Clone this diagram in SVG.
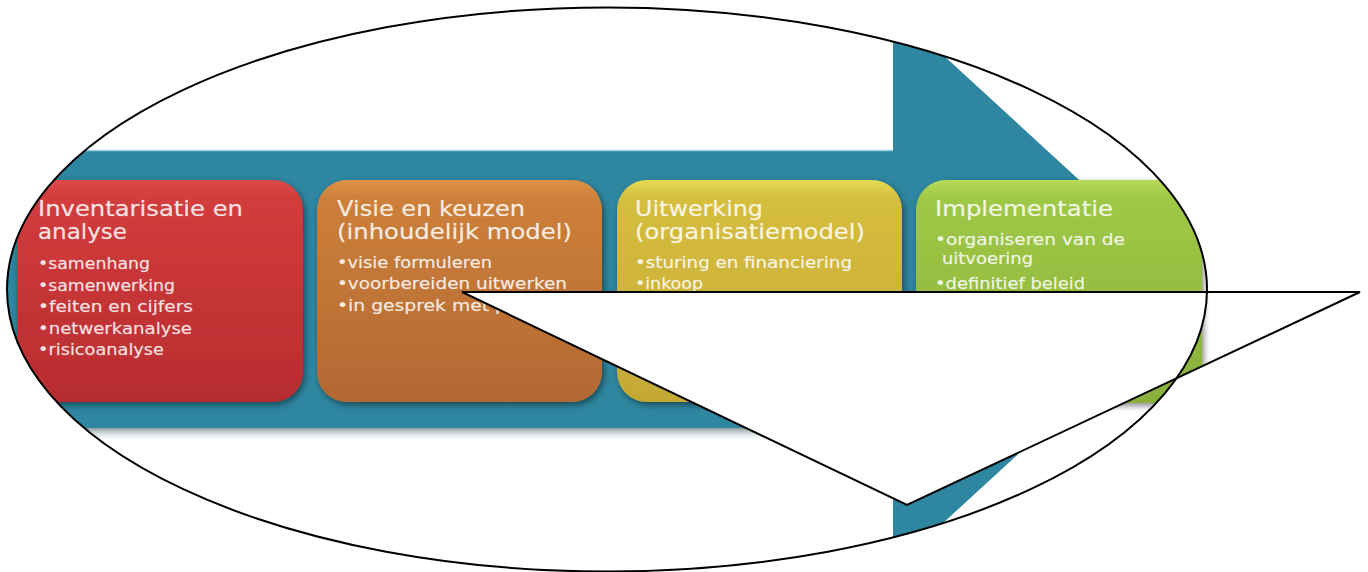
<svg xmlns="http://www.w3.org/2000/svg" width="1368" height="572" viewBox="0 0 1368 572">
<style>
.title{font-family:"DejaVu Sans","Verdana",sans-serif;font-size:21px;fill:#ffffff;fill-opacity:0.85;stroke:#ffffff;stroke-opacity:0.35;stroke-width:0.5}
.bul{font-family:"DejaVu Sans","Verdana",sans-serif;font-size:16px;fill:#ffffff;fill-opacity:0.85;stroke:#ffffff;stroke-opacity:0.35;stroke-width:0.5}
.outline{fill:none;stroke:#000;stroke-width:2;stroke-linejoin:miter}
.box{filter:url(#sh)}
</style>
<defs>
<clipPath id="pic"><path clip-rule="evenodd" d="M7,289.5 A600,282 0 1,0 1207,289.5 A600,282 0 1,0 7,289.5 Z M462,292 L1360,292 L907,505 Z"/></clipPath>
<filter id="sh" x="-10%" y="-10%" width="125%" height="125%"><feDropShadow dx="2" dy="3" stdDeviation="3" flood-color="#000" flood-opacity="0.45"/></filter>
<linearGradient id="gRed" x1="0" y1="0" x2="0" y2="1"><stop offset="0" stop-color="#DB4A48"/><stop offset="0.08" stop-color="#D23C3C"/><stop offset="1" stop-color="#B72C30"/></linearGradient>
<linearGradient id="gOr" x1="0" y1="0" x2="0" y2="1"><stop offset="0" stop-color="#DB9245"/><stop offset="0.08" stop-color="#CD803A"/><stop offset="1" stop-color="#B26833"/></linearGradient>
<linearGradient id="gYe" x1="0" y1="0" x2="0" y2="1"><stop offset="0" stop-color="#E3DB52"/><stop offset="0.08" stop-color="#D6BE3E"/><stop offset="1" stop-color="#C4A836"/></linearGradient>
<linearGradient id="gGr" x1="0" y1="0" x2="0" y2="1"><stop offset="0" stop-color="#B6DA5A"/><stop offset="0.08" stop-color="#A0C846"/><stop offset="1" stop-color="#89B03B"/></linearGradient>
<linearGradient id="gShadow" x1="0" y1="0" x2="0" y2="1"><stop offset="0" stop-color="#3A5A68" stop-opacity="0.6"/><stop offset="1" stop-color="#ffffff" stop-opacity="0"/></linearGradient>
</defs>
<rect width="1368" height="572" fill="#ffffff"/>
<g clip-path="url(#pic)">
  <g id="arrow">
    <rect x="0" y="428" width="893" height="14" fill="url(#gShadow)"/>
    <path d="M0,150 H893 V9 L1198,289 L893,569 V428 H0 Z" fill="#2E86A0"/>
    <line x1="0" y1="150.5" x2="893" y2="150.5" stroke="#9ACFE0" stroke-width="1.5"/>
  </g>
  <g id="box1">
    <rect class="box" x="17" y="180" width="286" height="222" rx="30" fill="url(#gRed)"/>
    <text class="title" x="38" y="216" textLength="205" lengthAdjust="spacingAndGlyphs">Inventarisatie en</text>
    <text class="title" x="38" y="239" textLength="89" lengthAdjust="spacingAndGlyphs">analyse</text>
    <text class="bul" x="38" y="269" textLength="112" lengthAdjust="spacingAndGlyphs">•samenhang</text>
    <text class="bul" x="38" y="291" textLength="137" lengthAdjust="spacingAndGlyphs">•samenwerking</text>
    <text class="bul" x="38" y="312" textLength="155" lengthAdjust="spacingAndGlyphs">•feiten en cijfers</text>
    <text class="bul" x="38" y="334" textLength="154" lengthAdjust="spacingAndGlyphs">•netwerkanalyse</text>
    <text class="bul" x="38" y="355" textLength="126" lengthAdjust="spacingAndGlyphs">•risicoanalyse</text>
  </g>
  <g id="box2">
    <rect class="box" x="317" y="180" width="285" height="222" rx="30" fill="url(#gOr)"/>
    <text class="title" x="337" y="216" textLength="188" lengthAdjust="spacingAndGlyphs">Visie en keuzen</text>
    <text class="title" x="337" y="239" textLength="235" lengthAdjust="spacingAndGlyphs">(inhoudelijk model)</text>
    <text class="bul" x="337" y="268" textLength="155" lengthAdjust="spacingAndGlyphs">•visie formuleren</text>
    <text class="bul" x="337" y="289" textLength="230" lengthAdjust="spacingAndGlyphs">•voorbereiden uitwerken</text>
    <text class="bul" x="337" y="311" textLength="170" lengthAdjust="spacingAndGlyphs">•in gesprek met p</text>
  </g>
  <g id="box3">
    <rect class="box" x="617" y="180" width="285" height="222" rx="30" fill="url(#gYe)"/>
    <text class="title" x="635" y="216" textLength="128" lengthAdjust="spacingAndGlyphs">Uitwerking</text>
    <text class="title" x="635" y="239" textLength="230" lengthAdjust="spacingAndGlyphs">(organisatiemodel)</text>
    <text class="bul" x="635" y="268" textLength="217" lengthAdjust="spacingAndGlyphs">•sturing en financiering</text>
    <text class="bul" x="635" y="289" textLength="68" lengthAdjust="spacingAndGlyphs">•inkoop</text>
  </g>
  <g id="box4">
    <rect class="box" x="916" y="180" width="286" height="223" rx="30" fill="url(#gGr)"/>
    <text class="title" x="935" y="216" textLength="178" lengthAdjust="spacingAndGlyphs">Implementatie</text>
    <text class="bul" x="935" y="245" textLength="190" lengthAdjust="spacingAndGlyphs">•organiseren van de</text>
    <text class="bul" x="942" y="264" textLength="91" lengthAdjust="spacingAndGlyphs">uitvoering</text>
    <text class="bul" x="935" y="289" textLength="150" lengthAdjust="spacingAndGlyphs">•definitief beleid</text>
  </g>
</g>
<g id="connectors">
  <ellipse class="outline" cx="607" cy="289.5" rx="600" ry="282"/>
  <polygon class="outline" points="462,292 1360,292 907,505"/>
</g>
</svg>
